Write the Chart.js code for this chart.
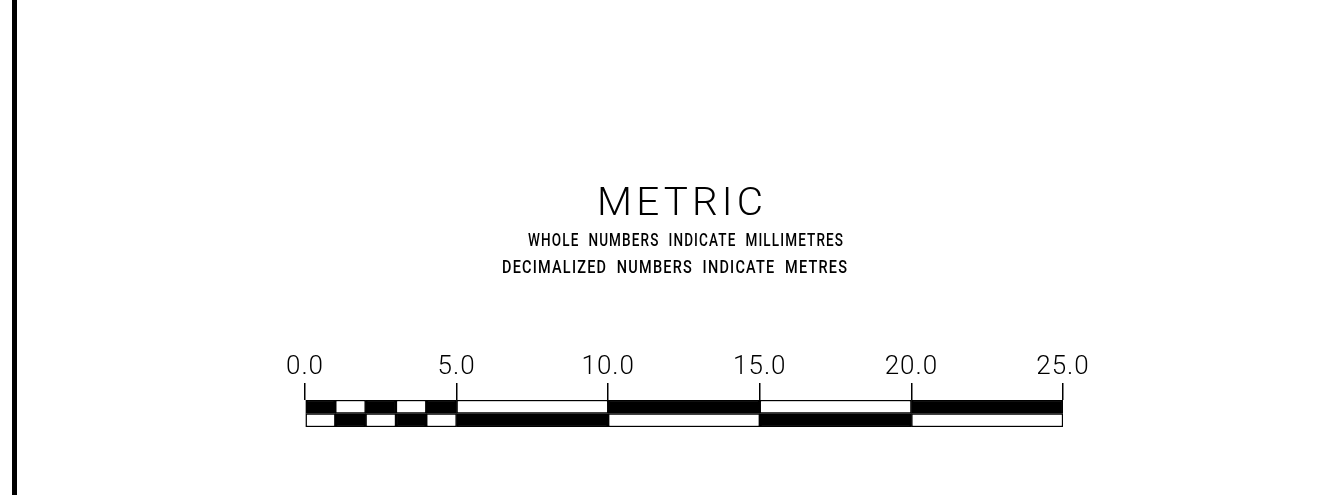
<!DOCTYPE html>
<html>
<head>
<meta charset="utf-8">
<script src="https://cdn.jsdelivr.net/npm/chart.js@4"></script>
<style>
  html, body { margin: 0; padding: 0; background: #ffffff; }
  #wrap { position: relative; width: 1336px; height: 495px; background: #ffffff; }
  #frame { position: absolute; left: 12px; top: 0; width: 5px; height: 495px; background: #000; }
  canvas { position: absolute; left: 0; top: 0; }
</style>
</head>
<body>
<div id="wrap">
  <canvas id="c" width="1336" height="495"></canvas>
  <div id="frame"></div>
</div>
<script>
// ---- data ----
const titleText = 'METRIC';
const noteLines = ['WHOLE NUMBERS INDICATE MILLIMETRES', 'DECIMALIZED NUMBERS INDICATE METRES'];
const tickValues = [0, 5, 10, 15, 20, 25];
const tickLabels = ['0.0', '5.0', '10.0', '15.0', '20.0', '25.0'];
const segmentBounds = [0, 1, 2, 3, 4, 5, 10, 15, 20, 25];
const rowNames = ['upper', 'lower'];

// ---- build datasets ----
const BLACK = '#000000', WHITE = '#ffffff';
const datasets = [];
for (let i = 0; i < segmentBounds.length - 1; i++) {
  const span = [segmentBounds[i], segmentBounds[i + 1]];
  datasets.push({
    label: 'seg' + i,
    data: rowNames.map(() => span),
    backgroundColor: [i % 2 === 0 ? BLACK : WHITE, i % 2 === 0 ? WHITE : BLACK],
    borderColor: BLACK,
    borderWidth: 1.5,
    borderSkipped: false,
    grouped: false,
    barPercentage: 1,
    categoryPercentage: 1
  });
}

const spacingPlugin = {
  id: 'spacing',
  beforeDraw(chart) { chart.ctx.letterSpacing = '1px'; }
};

const textPlugin = {
  id: 'cadText',
  afterDraw(chart) {
    const ctx = chart.ctx;
    const items = [
      { text: titleText, cx: 680, base: 215, size: 39, weight: 300, ls: 4, ws: 0, width: 166 },
      { text: noteLines[0], cx: 685.5, base: 246, size: 18, weight: 500, ls: 1.5, ws: 6, width: 315 },
      { text: noteLines[1], cx: 674.5, base: 273, size: 18, weight: 500, ls: 1.5, ws: 6, width: 345 }
    ];
    items.forEach(it => {
      ctx.save();
      ctx.font = it.weight + ' ' + it.size + 'px Roboto';
      ctx.letterSpacing = it.ls + 'px';
      ctx.wordSpacing = it.ws + 'px';
      ctx.fillStyle = '#000';
      ctx.textAlign = 'left';
      ctx.textBaseline = 'alphabetic';
      const w = ctx.measureText(it.text).width - it.ls;
      const sx = it.width / w;
      ctx.translate(it.cx - it.width / 2, it.base);
      ctx.scale(sx, 1);
      ctx.fillText(it.text, 0, 0);
      ctx.restore();
    });
  }
};

new Chart(document.getElementById('c'), {
  type: 'bar',
  data: { labels: rowNames, datasets },
  plugins: [spacingPlugin, textPlugin],
  options: {
    indexAxis: 'y',
    responsive: false,
    animation: false,
    devicePixelRatio: 1,
    layout: { padding: { left: 305, right: 273, top: 340, bottom: 68 } },
    plugins: { legend: { display: false }, tooltip: { enabled: false }, title: { display: false } },
    scales: {
      y: { type: 'category', display: false, offset: true },
      x: {
        type: 'linear',
        position: 'top',
        min: 0, max: 25,
        afterBuildTicks(axis) { axis.ticks = tickValues.map(v => ({ value: v })); },
        afterFit(axis) { axis.height = 60; },
        ticks: {
          autoSkip: false,
          maxRotation: 0,
          padding: 0,
          color: '#000',
          font: { family: 'Roboto', size: 26, weight: 300 },
          callback(v) { const k = tickValues.indexOf(v); return k >= 0 ? tickLabels[k] : ''; }
        },
        grid: { drawOnChartArea: false, drawTicks: true, tickLength: 17, color: '#000', lineWidth: 1.5 },
        border: { display: false }
      }
    }
  }
});
</script>
</body>
</html>
